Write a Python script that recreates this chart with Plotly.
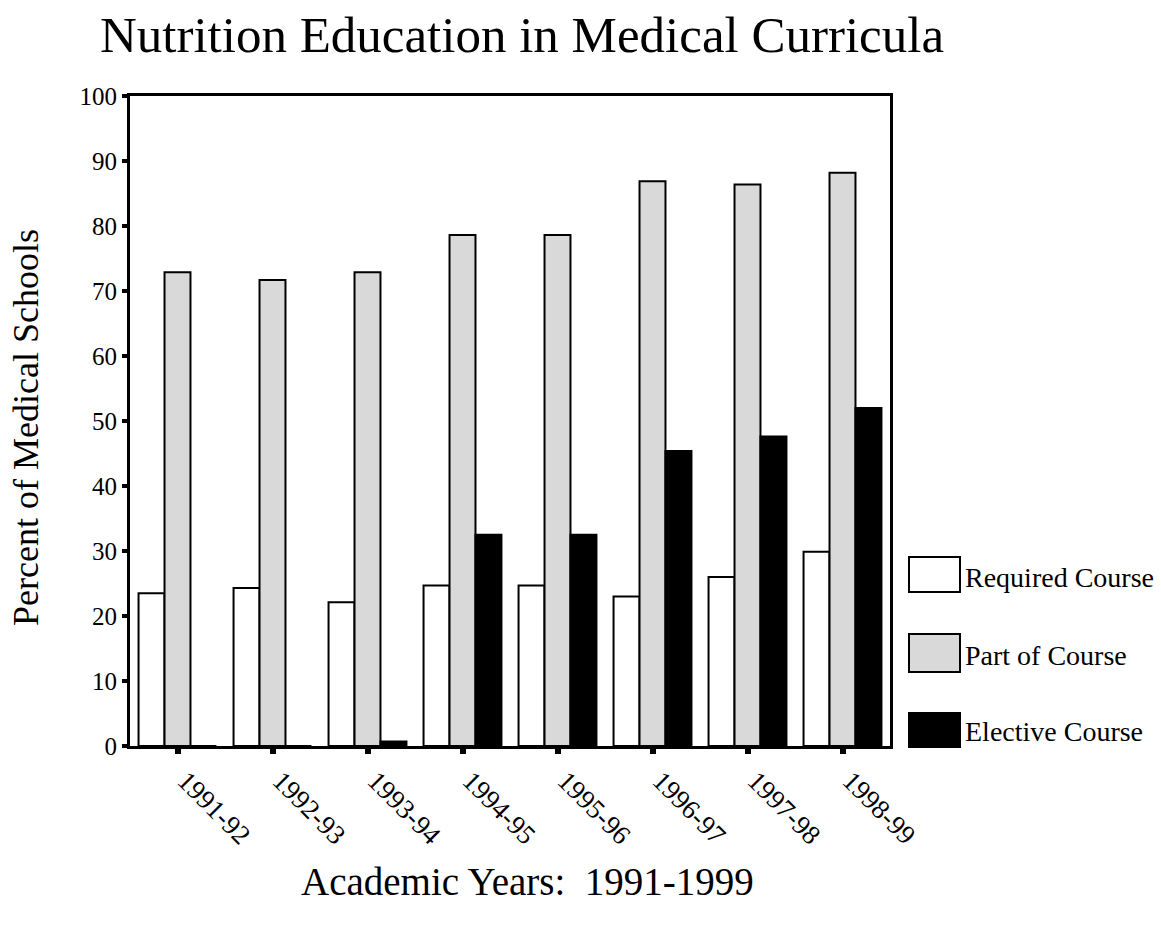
import plotly.graph_objects as go

years = ["1991-92", "1992-93", "1993-94", "1994-95", "1995-96", "1996-97", "1997-98", "1998-99"]
required_course = [23.5, 24.3, 22.1, 24.7, 24.7, 23.0, 26.0, 29.9]
part_of_course = [72.9, 71.7, 72.9, 78.6, 78.6, 86.9, 86.4, 88.2]
elective_course = [0, 0, 0.7, 32.5, 32.5, 45.4, 47.6, 52.0]
series_names = ["Required Course", "Part of Course", "Elective Course"]
series_colors = ["#ffffff", "#d9d9d9", "#000000"]
y_ticks = [0, 10, 20, 30, 40, 50, 60, 70, 80, 90, 100]

FONT = "Liberation Serif, Times New Roman, serif"

fig = go.Figure()
for name, vals, col in zip(series_names, [required_course, part_of_course, elective_course], series_colors):
    fig.add_trace(go.Bar(
        x=years, y=vals, name=name,
        marker=dict(color=col, line=dict(color="black", width=2)),
        showlegend=False,
    ))

W, H = 1161, 931
L, R, T, B = 130, 890, 96, 746

fig.update_layout(
    width=W, height=H,
    margin=dict(l=L, r=W - R, t=T, b=H - B, autoexpand=False),
    paper_bgcolor="white", plot_bgcolor="white",
    barmode="group", bargap=0.18, bargroupgap=0,
    font=dict(family=FONT, color="black", size=25),
    title=dict(text="Nutrition Education in Medical Curricula",
               font=dict(family=FONT, size=51, color="black"),
               xref="paper", x=(522 - L) / (R - L), xanchor="center",
               yref="container", y=1 - 34 / H, yanchor="middle"),
    xaxis=dict(
        showgrid=False, showline=True, linecolor="black", linewidth=3, mirror=True,
        ticks="outside", ticklen=5, tickwidth=6, tickcolor="black",
        tickangle=45, ticklabelshift=8,
        tickfont=dict(family=FONT, size=27, color="black"),
    ),
    yaxis=dict(
        range=[0, 100], tickvals=y_ticks, showgrid=False, zeroline=False,
        showline=True, linecolor="black", linewidth=3, mirror=True,
        ticks="outside", ticklen=5, tickwidth=4, tickcolor="black",
        tickfont=dict(family=FONT, size=25, color="black"),
    ),
)

def py(ypix):
    return (B - ypix) / (B - T)

def px(xpix):
    return (xpix - L) / (R - L)

annotations = [
    dict(text="Percent of Medical Schools", xref="paper", yref="paper",
         x=px(26), y=py(428), xanchor="center", yanchor="middle", textangle=-90,
         showarrow=False, font=dict(family=FONT, size=36, color="black")),
    dict(text="Academic Years:  1991-1999", xref="paper", yref="paper",
         x=px(527), y=py(882), xanchor="center", yanchor="middle",
         showarrow=False, font=dict(family=FONT, size=39, color="black")),
]

# legend swatches (drawn at right of plot)
legend_boxes = [(557, 592, 577), (634, 672, 655), (713, 747, 731)]
shapes = []
for (y0, y1, yc), name, col in zip(legend_boxes, series_names, series_colors):
    shapes.append(dict(type="rect", xref="paper", yref="paper",
                       x0=px(909), x1=px(960), y0=py(y1), y1=py(y0),
                       fillcolor=col, line=dict(color="black", width=2)))
    annotations.append(dict(text=name, xref="paper", yref="paper",
                            x=px(963), y=py(yc), xanchor="left", yanchor="middle",
                            showarrow=False, font=dict(family=FONT, size=28, color="black")))

fig.update_layout(annotations=annotations, shapes=shapes)
fig.write_html("out.html", config={"displayModeBar": False},
               post_script="document.body.style.margin='0';")
